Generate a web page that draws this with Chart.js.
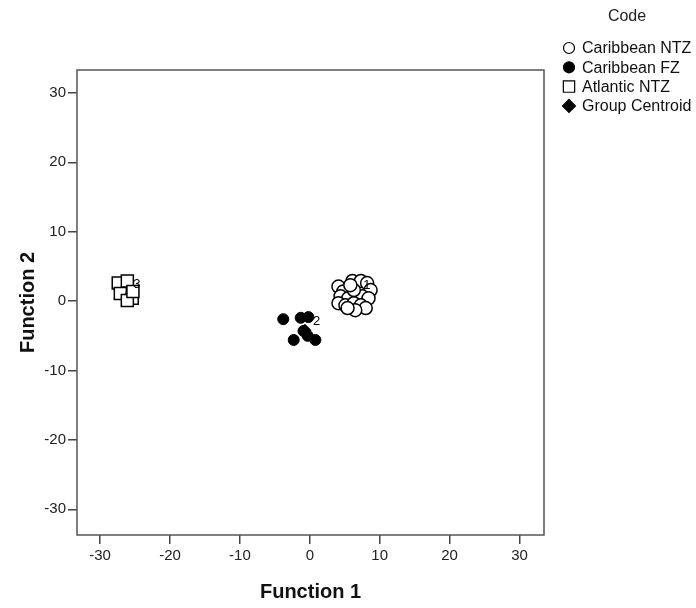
<!DOCTYPE html>
<html>
<head>
<meta charset="utf-8">
<script src="https://cdn.jsdelivr.net/npm/chart.js@4/dist/chart.umd.min.js"></script>
<style>
  html, body { margin: 0; padding: 0; background: #fff; }
  #wrap { width: 696px; height: 608px; position: relative; }
</style>
</head>
<body>
<div id="wrap"><canvas id="scatterChart"></canvas></div>
<script>
(() => {
  'use strict'

  // discriminant scores
  const ntzX = [6.1, 7.3, 8.2, 4.1, 4.8, 8.7, 4.4, 5.5, 7.5, 8.4, 4.1, 5.1, 6.3, 7.3, 8.0, 6.5, 5.4, 6.3, 5.8]
  const ntzY = [2.9, 2.9, 2.6, 2.1, 1.4, 1.6, 0.7, 0.4, 0.7, 0.4, -0.3, -0.6, -0.3, -0.6, -1.0, -1.3, -1.0, 1.6, 2.3]
  const fzX = [-3.8, -1.3, -0.2, -0.9, -2.3, 0.8, -0.3]
  const fzY = [-2.6, -2.4, -2.3, -4.3, -5.6, -5.6, -5.0]
  const atlX = [-27.4, -26.1, -27.1, -25.4, -26.1, -25.3]
  const atlY = [2.6, 2.9, 1.1, 0.4, 0.1, 1.4]
  const centroidX = [6.5, -0.7, -26.4]
  const centroidY = [0.9, -4.2, 1.1]
  const centroidLabels = ['1', '2', '3']
  const ticks = [-30, -20, -10, 0, 10, 20, 30]
  const legendNames = ['Caribbean NTZ', 'Caribbean FZ', 'Atlantic NTZ', 'Group Centroid']

  const pts = (xs, ys) => xs.map((x, i) => ({ x, y: ys[i] }))
  const font = 'Liberation Sans, Arial, sans-serif'

  // box around plot + centroid numbers + legend
  const extras = {
    id: 'extras',
    afterDraw (chart) {
      const c = chart.ctx
      const a = chart.chartArea
      const sx = chart.scales.x
      const sy = chart.scales.y
      c.save()
      c.strokeStyle = '#555'
      c.lineWidth = 1.5
      c.strokeRect(a.left, a.top, a.right - a.left, a.bottom - a.top)

      c.fillStyle = '#000'
      c.font = '13px ' + font
      c.textAlign = 'left'
      c.textBaseline = 'middle'
      centroidLabels.forEach((t, i) => {
        c.fillText(t, sx.getPixelForValue(centroidX[i]) + 8, sy.getPixelForValue(centroidY[i]) - 9)
      })

      // legend
      c.fillStyle = '#222'
      c.font = '16px ' + font
      c.textAlign = 'center'
      c.fillText('Code', 627, 17)
      c.textAlign = 'left'
      const sizes = [5.5, 5.5, 8, 6.5]
      chart.data.datasets.forEach((ds, i) => {
        const y = 48 + i * 19.3
        c.strokeStyle = '#000'
        c.fillStyle = ds.pointBackgroundColor
        c.lineWidth = 1.2
        Chart.helpers.drawPoint(c, {
          pointStyle: ds.pointStyle,
          radius: sizes[i],
          rotation: 0,
          borderWidth: 1.2
        }, 569, y)
        c.fillStyle = '#111'
        c.fillText(legendNames[i], 582, y + 1)
      })
      c.restore()
    }
  }

  const ctx = document.getElementById('scatterChart')
  // eslint-disable-next-line no-unused-vars
  const chart = new Chart(ctx, {
    type: 'scatter',
    data: {
      datasets: [
        {
          label: legendNames[0],
          data: pts(ntzX, ntzY),
          pointStyle: 'circle',
          pointRadius: 6.5,
          pointBackgroundColor: '#fff',
          pointBorderColor: '#000',
          pointBorderWidth: 1.5
        },
        {
          label: legendNames[1],
          data: pts(fzX, fzY),
          pointStyle: 'circle',
          pointRadius: 5.5,
          pointBackgroundColor: '#000',
          pointBorderColor: '#000',
          pointBorderWidth: 1
        },
        {
          label: legendNames[2],
          data: pts(atlX, atlY),
          pointStyle: 'rect',
          pointRadius: 8.5,
          pointBackgroundColor: '#fff',
          pointBorderColor: '#000',
          pointBorderWidth: 1.5
        },
        {
          label: legendNames[3],
          data: pts(centroidX, centroidY),
          pointStyle: 'rectRot',
          pointRadius: 6,
          pointBackgroundColor: '#000',
          pointBorderColor: '#000',
          pointBorderWidth: 1
        }
      ]
    },
    options: {
      responsive: true,
      maintainAspectRatio: false,
      animation: false,
      layout: { padding: { left: 16, right: 152, top: 70, bottom: 0 } },
      plugins: {
        legend: { display: false },
        tooltip: { enabled: false }
      },
      scales: {
        x: {
          type: 'linear',
          min: -33.3,
          max: 33.5,
          afterBuildTicks (s) { s.ticks = ticks.map(v => ({ value: v })) },
          afterFit (s) { s.height = 73 },
          border: { display: false },
          grid: { drawOnChartArea: false, tickLength: 9, color: '#444', lineWidth: 1.5 },
          ticks: { color: '#222', font: { size: 15, family: font }, padding: 3, maxRotation: 0 },
          title: { display: true, text: 'Function 1', color: '#111', font: { size: 20, weight: 'bold', family: font }, padding: { top: 10 } }
        },
        y: {
          type: 'linear',
          min: -33.7,
          max: 33.3,
          afterBuildTicks (s) { s.ticks = ticks.map(v => ({ value: v })) },
          afterFit (s) { s.width = 61 },
          border: { display: false },
          grid: { drawOnChartArea: false, tickLength: 9, color: '#444', lineWidth: 1.5 },
          ticks: { color: '#222', font: { size: 15, family: font }, padding: 2 },
          title: { display: true, text: 'Function 2', color: '#111', font: { size: 20, weight: 'bold', family: font }, padding: { top: 0, bottom: 0 } }
        }
      }
    },
    plugins: [extras]
  })
})()
</script>
</body>
</html>
